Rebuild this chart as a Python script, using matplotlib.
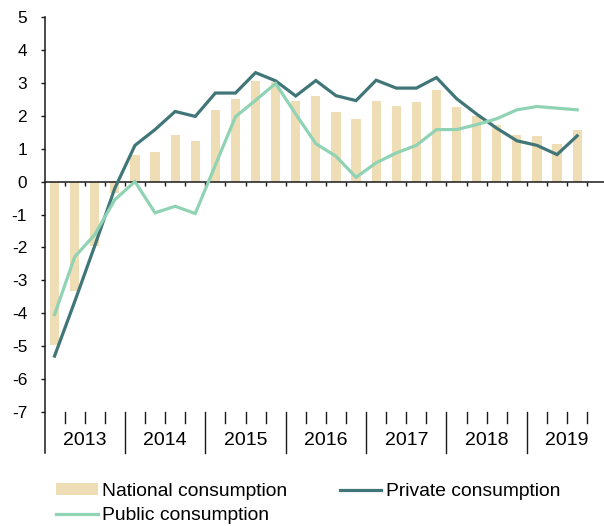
import numpy as np
import matplotlib
matplotlib.use("Agg")
import matplotlib.pyplot as plt
from matplotlib.patches import Patch
from matplotlib.lines import Line2D

plt.rcParams['font.family'] = ['Liberation Sans', 'DejaVu Sans']

# quarterly data, 2013Q1 - 2019Q3 (2019Q4 slot left empty)
years = ['2013', '2014', '2015', '2016', '2017', '2018', '2019']
national = [-4.95, -3.33, -1.96, -0.36, 0.82, 0.91, 1.42, 1.24, 2.18, 2.50, 3.06, 3.02,
            2.45, 2.60, 2.12, 1.90, 2.45, 2.31, 2.41, 2.79, 2.27, 1.98, 1.71, 1.42,
            1.37, 1.15, 1.58]
private = [-5.30, -3.65, -1.95, -0.20, 1.10, 1.58, 2.13, 1.98, 2.69, 2.69, 3.31, 3.06,
           2.60, 3.07, 2.61, 2.46, 3.08, 2.84, 2.84, 3.16, 2.52, 2.05, 1.62, 1.24,
           1.10, 0.82, 1.39]
public = [-4.04, -2.29, -1.61, -0.55, 0.00, -0.95, -0.75, -0.97, 0.50, 1.97, 2.47, 2.98,
          2.05, 1.15, 0.77, 0.13, 0.57, 0.87, 1.10, 1.58, 1.58, 1.73, 1.91, 2.18,
          2.28, 2.23, 2.18]

c_nat = '#EFDDB5'
c_priv = '#417679'
c_pub = '#8FD3B4'
axis_col = '#1a1a1a'

W, H = 604, 526
fig = plt.figure(figsize=(W / 100, H / 100), dpi=100)
# axes box in pixels: x 44.5 .. 607.3, y 17 .. 412
left, right, top, bottom = 44.5, 607.3, 17, 412
ax = fig.add_axes([left / W, 1 - bottom / H, (right - left) / W, (bottom - top) / H])

x = np.arange(len(national))
ax.bar(x, national, width=0.46, color=c_nat, zorder=2)
ax.plot(x, private, color=c_priv, lw=2.3, zorder=3, solid_joinstyle='miter')
ax.plot(x, public, color=c_pub, lw=2.3, zorder=4, solid_joinstyle='miter')

n_slots = len(years) * 4
ax.set_xlim(-0.5, n_slots - 0.5)
ax.set_ylim(-7, 5)
ax.set_yticks(range(-7, 6))
ax.set_yticklabels([str(v) for v in range(-7, 6)])

for s in ['top', 'right', 'left']:
    ax.spines[s].set_visible(False)
ax.spines['bottom'].set_position(('data', 0))
ax.spines['bottom'].set_color(axis_col)
ax.spines['bottom'].set_linewidth(1.1)
ax.set_xticks(np.arange(0.5, n_slots, 1))
ax.set_xticklabels([])
ax.tick_params(axis='x', direction='out', length=3, width=1.0, color=axis_col)
ax.tick_params(axis='y', direction='out', length=3, width=1.0, color=axis_col,
               pad=9.5, labelsize=12.4)

# left axis line, extended down through the category label area
ax_h = bottom - top
y_low = -(453 - bottom) / ax_h
y_minor = -(423 - bottom) / ax_h
y_lab = -(440.5 - bottom) / ax_h
ax.plot([0, 0], [1, y_low], transform=ax.transAxes, color=axis_col, lw=1.1,
        clip_on=False, zorder=5)

# category labels at the bottom (quarters + years)
btrans = ax.get_xaxis_transform()
for i, yr in enumerate(years):
    start = i * 4 - 0.5
    for q in range(1, 4):
        ax.plot([start + q, start + q], [0, y_minor], transform=btrans,
                color=axis_col, lw=1.0, clip_on=False)
    if i > 0:
        ax.plot([start, start], [0, y_low], transform=btrans,
                color=axis_col, lw=1.0, clip_on=False)
    ax.text(start + 2, y_lab, yr, transform=btrans, ha='center', va='center',
            fontsize=14, color='black')

handles = [Patch(facecolor=c_nat, edgecolor='none'),
           Line2D([], [], color=c_pub, lw=2.3),
           Line2D([], [], color=c_priv, lw=2.3)]
labels = ['National consumption', 'Public consumption', 'Private consumption']
fig.legend(handles, labels, ncol=2, loc='upper left',
           bbox_to_anchor=(56 / W, 1 - 483 / H), frameon=False,
           fontsize=13.9, handlelength=2.15, handletextpad=0.25,
           columnspacing=2.7, labelspacing=0.38, borderaxespad=0,
           borderpad=0, handleheight=0.6)

fig.savefig('out.png', dpi=100)
